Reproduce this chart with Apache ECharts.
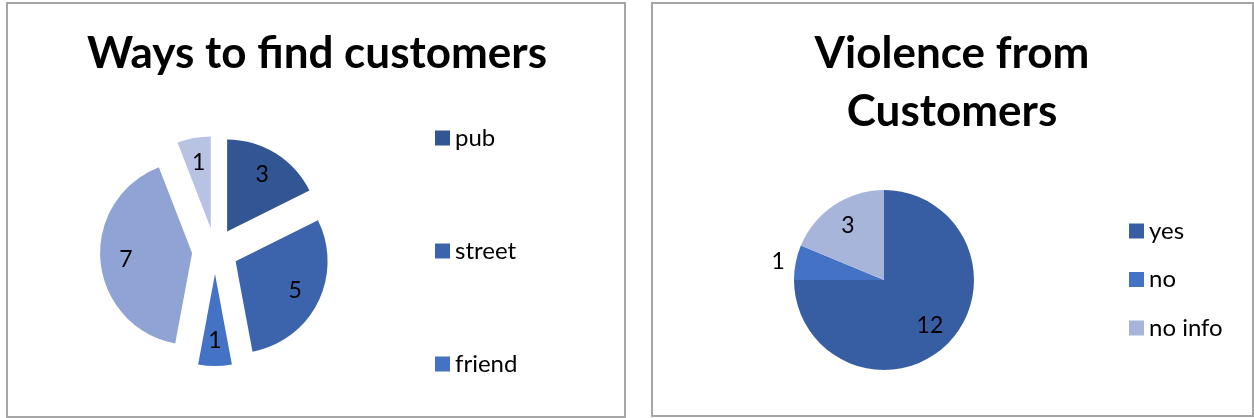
<!DOCTYPE html>
<html>
<head>
<meta charset="utf-8">
<script src="https://cdn.jsdelivr.net/npm/echarts@6/dist/echarts.min.js"></script>
<style>
  html, body { margin: 0; padding: 0; background: #fff; }
  .frame { position: absolute; box-sizing: border-box; border: 2px solid #a6a6a6; }
  #chart { position: absolute; left: 0; top: 0; width: 1254px; height: 418px; }
</style>
</head>
<body>
<div class="frame" style="left:6px;top:2px;width:620px;height:416px;"></div>
<div class="frame" style="left:651px;top:2px;width:603px;height:415px;"></div>
<div id="chart"></div>
<script>
// left chart: ways to find customers (only the first three are in the legend)
const wayNames = ['pub', 'street', 'friend', 'other', 'unknown'];
const wayValues = [3, 5, 1, 7, 1];
const wayColors = ['#325693', '#3c64ad', '#4472c4', '#8fa3d4', '#b8c2e3'];
const wayLegend = ['pub', 'street', 'friend'];

// right chart: violence from customers
const violenceNames = ['yes', 'no', 'no info'];
const violenceValues = [12, 1, 3];
const violenceColors = ['#375ea2', '#4472c4', '#a7b5db'];

const font = 'Lato';
const chart = echarts.init(document.getElementById('chart'), null, { renderer: 'canvas' });

function pieData(names, values, colors, extra) {
  return names.map((n, i) => Object.assign({
    name: n,
    value: values[i],
    itemStyle: { color: colors[i] }
  }, extra ? extra(i) : {}));
}

const labelStyle = { show: true, position: 'inside', color: '#000', fontFamily: font, fontSize: 23, formatter: '{c}' };

chart.setOption({
  animation: false,
  title: [
    {
      text: 'Ways to find customers',
      left: 317, top: 32, textAlign: 'center', padding: 0,
      textStyle: { fontFamily: font, fontWeight: 'bold', fontSize: 44, color: '#000' }
    },
    {
      text: 'Violence from\nCustomers',
      left: 952, top: 25, textAlign: 'center', padding: 0,
      textStyle: { fontFamily: font, fontWeight: 'bold', fontSize: 44, lineHeight: 58, color: '#000' }
    }
  ],
  legend: [
    {
      data: wayLegend,
      orient: 'vertical', left: 435, top: 126, padding: 0,
      itemWidth: 15, itemHeight: 15, itemGap: 89, icon: 'rect',
      textStyle: { fontFamily: font, fontSize: 24, color: '#000' },
      selectedMode: false
    },
    {
      data: violenceNames,
      orient: 'vertical', left: 1129, top: 219, padding: 0,
      itemWidth: 15, itemHeight: 15, itemGap: 24.5, icon: 'rect',
      textStyle: { fontFamily: font, fontSize: 24, color: '#000' },
      selectedMode: false
    }
  ],
  series: [
    {
      type: 'pie', center: [215, 251], radius: 92,
      selectedMode: 'multiple', selectedOffset: 23,
      label: { show: false }, labelLine: { show: false },
      silent: true,
      data: pieData(wayNames, wayValues, wayColors, () => ({ selected: true }))
    },
    {
      // transparent ring only for placing the value labels further out
      type: 'pie', center: [215, 251], radius: [35, 92],
      selectedMode: 'multiple', selectedOffset: 23,
      label: labelStyle, labelLine: { show: false },
      silent: true,
      data: wayNames.map((n, i) => ({ name: n, value: wayValues[i], selected: true, itemStyle: { color: 'rgba(0,0,0,0)' } }))
    },
    {
      type: 'pie', center: [884, 280], radius: 90,
      label: { show: false }, labelLine: { show: false },
      silent: true,
      data: pieData(violenceNames, violenceValues, violenceColors)
    },
    {
      type: 'pie', center: [884, 280], radius: [34, 90],
      label: labelStyle,
      labelLine: { show: false, length: 6, length2: 0 },
      silent: true,
      data: violenceNames.map((n, i) => ({
        name: n, value: violenceValues[i],
        itemStyle: { color: 'rgba(0,0,0,0)' },
        label: n === 'no' ? { position: 'outside' } : {}
      }))
    }
  ]
});
</script>
</body>
</html>
